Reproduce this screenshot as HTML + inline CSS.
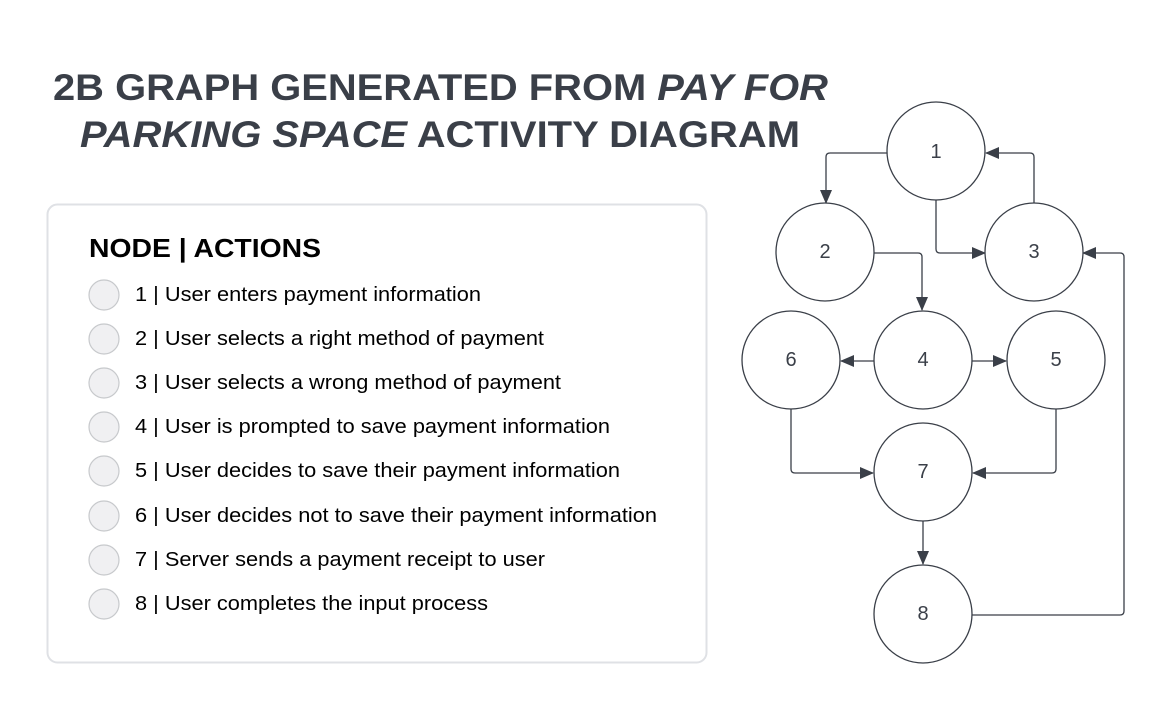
<!DOCTYPE html>
<html><head><meta charset="utf-8"><style>
html,body{margin:0;padding:0;background:#fff;}
svg{display:block;font-family:"Liberation Sans",Arial,sans-serif;}
</style></head><body>
<svg width="1164" height="704" viewBox="0 0 1164 704">
<defs>
<marker id="a" markerWidth="14" markerHeight="12" refX="13" refY="6" orient="auto" markerUnits="userSpaceOnUse">
<path d="M0,0 L14,6 L0,12 Z" fill="#3a3f48"/>
</marker>
</defs>
<g fill="#3a3f48" font-weight="bold" font-size="37">
<text x="53" y="100" textLength="775" lengthAdjust="spacingAndGlyphs">2B GRAPH GENERATED FROM <tspan font-style="italic">PAY FOR</tspan></text>
<text x="80" y="147" textLength="720" lengthAdjust="spacingAndGlyphs"><tspan font-style="italic">PARKING SPACE</tspan> ACTIVITY DIAGRAM</text>
</g>
<rect x="47.5" y="204.5" width="659" height="458" rx="10" fill="#fff" stroke="#dfe1e5" stroke-width="2"/>
<text x="89" y="257" font-size="26" font-weight="bold" fill="#000" textLength="232" lengthAdjust="spacingAndGlyphs">NODE | ACTIONS</text>
<g font-size="20.5" fill="#000">
<g fill="#f0f0f2" stroke="#c7c9cc" stroke-width="1.2">
<circle cx="104" cy="295" r="15"/><circle cx="104" cy="339" r="15"/><circle cx="104" cy="383" r="15"/><circle cx="104" cy="427" r="15"/>
<circle cx="104" cy="471" r="15"/><circle cx="104" cy="516" r="15"/><circle cx="104" cy="560" r="15"/><circle cx="104" cy="604" r="15"/>
</g>
<text x="135" y="301" textLength="346" lengthAdjust="spacingAndGlyphs">1 | User enters payment information</text>
<text x="135" y="345" textLength="409" lengthAdjust="spacingAndGlyphs">2 | User selects a right method of payment</text>
<text x="135" y="389" textLength="426" lengthAdjust="spacingAndGlyphs">3 | User selects a wrong method of payment</text>
<text x="135" y="433" textLength="475" lengthAdjust="spacingAndGlyphs">4 | User is prompted to save payment information</text>
<text x="135" y="477" textLength="485" lengthAdjust="spacingAndGlyphs">5 | User decides to save their payment information</text>
<text x="135" y="522" textLength="522" lengthAdjust="spacingAndGlyphs">6 | User decides not to save their payment information</text>
<text x="135" y="566" textLength="410" lengthAdjust="spacingAndGlyphs">7 | Server sends a payment receipt to user</text>
<text x="135" y="610" textLength="353" lengthAdjust="spacingAndGlyphs">8 | User completes the input process</text>
</g>
<g fill="none" stroke="#3a3f48" stroke-width="1.3">
<path d="M887,153 H830 Q826,153 826,157 V203" marker-end="url(#a)"/>
<path d="M936,200 V249 Q936,253 940,253 H985" marker-end="url(#a)"/>
<path d="M1034,204 V157 Q1034,153 1030,153 H986" marker-end="url(#a)"/>
<path d="M874,253 H918 Q922,253 922,257 V310" marker-end="url(#a)"/>
<path d="M874,361 H841" marker-end="url(#a)"/>
<path d="M972,361 H1006" marker-end="url(#a)"/>
<path d="M791,407 V469 Q791,473 795,473 H873" marker-end="url(#a)"/>
<path d="M1056,407 V469 Q1056,473 1052,473 H973" marker-end="url(#a)"/>
<path d="M923,521 V564" marker-end="url(#a)"/>
<path d="M972,615 H1120 Q1124,615 1124,611 V257 Q1124,253 1120,253 H1083" marker-end="url(#a)"/>
</g>
<g fill="#fff" stroke="#3a3f48" stroke-width="1.3">
<circle cx="936" cy="151" r="49"/><circle cx="825" cy="252" r="49"/><circle cx="1034" cy="252" r="49"/>
<circle cx="791" cy="360" r="49"/><circle cx="923" cy="360" r="49"/><circle cx="1056" cy="360" r="49"/>
<circle cx="923" cy="472" r="49"/><circle cx="923" cy="614" r="49"/>
</g>
<g font-size="20" fill="#3a3f48" text-anchor="middle">
<text x="936" y="158">1</text><text x="825" y="258">2</text><text x="1034" y="258">3</text>
<text x="791" y="366">6</text><text x="923" y="366">4</text><text x="1056" y="366">5</text>
<text x="923" y="478">7</text><text x="923" y="620">8</text>
</g>
</svg>
</body></html>
